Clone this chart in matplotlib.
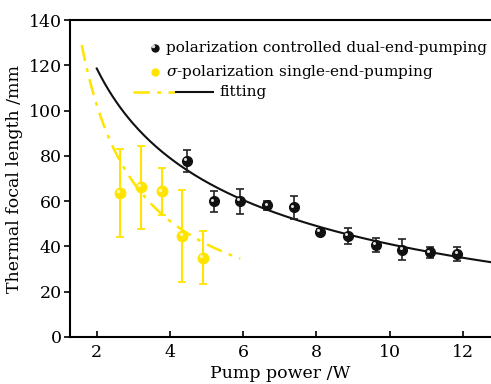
import numpy as np
import matplotlib.pyplot as plt
from matplotlib.transforms import ScaledTranslation

plt.rcParams['font.family'] = 'DejaVu Serif'
plt.rcParams['mathtext.fontset'] = 'dejavuserif'

# polarization controlled dual-end-pumping
dual_power = [4.46, 5.2, 5.92, 6.66, 7.39, 8.1, 8.86, 9.63, 10.35, 11.1, 11.85]
dual_focal = [77.8, 59.9, 60.0, 58.1, 57.2, 46.5, 44.7, 40.6, 38.5, 37.4, 36.6]
dual_err = [5.0, 4.5, 5.5, 2.0, 5.0, 1.0, 3.5, 3.2, 4.6, 2.4, 3.0]

# sigma-polarization single-end-pumping
single_power = [2.63, 3.2, 3.78, 4.34, 4.9]
single_focal = [63.7, 66.2, 64.3, 44.6, 34.9]
single_err = [19.4, 18.3, 10.4, 20.4, 11.7]

# fitted curves f = a * P**(-b) + d
dual_fit = dict(a=215.6, b=0.4, d=-44.8, pmin=2.0, pmax=12.8)
single_fit = dict(a=205.0, b=1.0, d=0.0, pmin=1.59, pmax=5.92)

xticks = [2, 4, 6, 8, 10, 12]
yticks = [0, 20, 40, 60, 80, 100, 120, 140]

black = '#111111'
yellow = '#FFE400'


def fit_curve(p):
    P = np.linspace(p['pmin'], p['pmax'], 200)
    return P, p['a'] * P ** (-p['b']) + p['d']


fig = plt.figure(figsize=(4.91, 3.84), dpi=100)
ax = fig.add_axes([0.1426, 0.1224, 0.8574, 0.8255])

P, F = fit_curve(dual_fit)
ax.plot(P, F, color=black, lw=1.5, zorder=2)
P, F = fit_curve(single_fit)
ax.plot(P, F, color=yellow, lw=1.8, dashes=(6.5, 3, 1.5, 3), zorder=2)

ax.errorbar(single_power, single_focal, yerr=single_err, fmt='o', ms=7.5,
            color=yellow, ecolor=yellow, elinewidth=1.5, capsize=3, capthick=1.3,
            zorder=3)
ax.errorbar(dual_power, dual_focal, yerr=dual_err, fmt='o', ms=7,
            color=black, ecolor='#222222', elinewidth=1.2, capsize=3, capthick=1.2,
            zorder=4)

# small highlight so the markers look like shaded balls
shift = ax.transData + ScaledTranslation(-1.3 / 72, 1.3 / 72, fig.dpi_scale_trans)
ax.plot(dual_power, dual_focal, 'o', ms=2.2, color='#dddddd', mec='none',
        transform=shift, zorder=5)
ax.plot(single_power, single_focal, 'o', ms=2.5, color='#fff7a8', mec='none',
        transform=shift, zorder=5)

ax.set_xlim(1.27, 12.77)
ax.set_ylim(0, 140)
ax.set_xticks(xticks)
ax.set_yticks(yticks)
ax.tick_params(axis='x', direction='in', length=4, width=1.2, labelsize=12.5, pad=5)
ax.tick_params(axis='y', direction='out', length=4, width=1.2, labelsize=12.5, pad=2)
ax.spines['right'].set_visible(False)
for s in ('left', 'bottom', 'top'):
    ax.spines[s].set_linewidth(1.5)

ax.set_xlabel('Pump power /W', fontsize=12.5, labelpad=3)
ax.set_ylabel('Thermal focal length /mm', fontsize=12.5, labelpad=4)

# legend drawn by hand
tf = ax.transAxes
ax.plot([0.202], [0.913], 'o', ms=5, color=black, transform=tf)
ax.plot([0.196], [0.919], 'o', ms=1.5, color='#dddddd', transform=tf)
ax.text(0.228, 0.913, 'polarization controlled dual-end-pumping', transform=tf,
        fontsize=11, va='center', ha='left')
ax.plot([0.202], [0.836], 'o', ms=5, color=yellow, transform=tf)
ax.text(0.228, 0.836, r'$\sigma$-polarization single-end-pumping', transform=tf,
        fontsize=11, va='center', ha='left')
ax.plot([0.150, 0.249], [0.773, 0.773], color=yellow, lw=1.8,
        dashes=(6.5, 3, 1.5, 3), transform=tf)
ax.plot([0.252, 0.340], [0.773, 0.773], color=black, lw=1.5, transform=tf)
ax.text(0.356, 0.773, 'fitting', transform=tf, fontsize=11, va='center', ha='left')

fig.savefig('out.png', dpi=100)
